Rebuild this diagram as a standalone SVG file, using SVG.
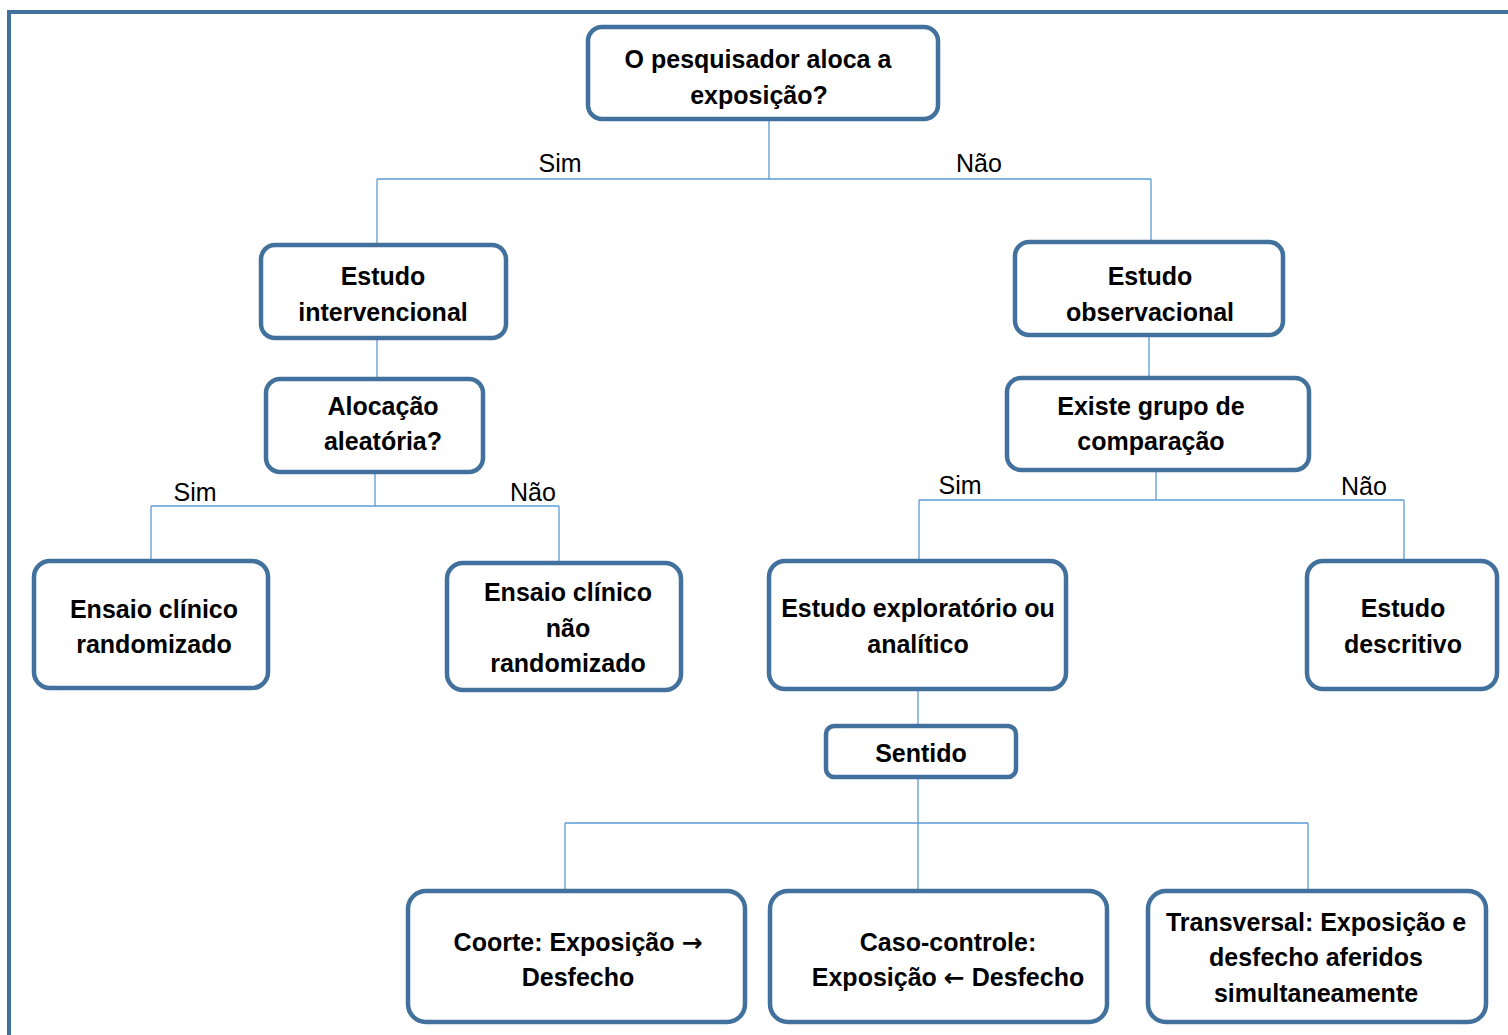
<svg xmlns="http://www.w3.org/2000/svg" width="1508" height="1035" viewBox="0 0 1508 1035">
<style>
.box{fill:#fff;stroke:#41719c;stroke-width:4.5}
.t{font-family:"Liberation Sans",Arial,sans-serif;font-weight:bold;font-size:25px;fill:#000;text-anchor:middle}
.l{font-family:"Liberation Sans",Arial,sans-serif;font-size:25px;fill:#000;text-anchor:middle}
.a{font-family:"DejaVu Sans",sans-serif;font-weight:bold}
.c{fill:none;stroke:#5b9bd5;stroke-width:1.3}
</style>
<rect width="1508" height="1035" fill="#fff"/>
<rect x="9" y="12" width="1520" height="1040" fill="none" stroke="#41719c" stroke-width="4"/>
<g id="connectors">
<path class="c" d="M769 119V179M377 179H1151M377 179V245M1151 179V242"/>
<path class="c" d="M377 338V379M1149 335V378"/>
<path class="c" d="M375 472V506M151 506H559M151 506V561M559 506V563"/>
<path class="c" d="M1156 470V500M919 500H1404M919 500V561M1404 500V561"/>
<path class="c" d="M918 689V726M918 777V891M565 823H1308M565 823V891M1308 823V891"/>
<text class="l" x="560" y="172">Sim</text>
<text class="l" x="979" y="172">Não</text>
<text class="l" x="195" y="501">Sim</text>
<text class="l" x="533" y="501">Não</text>
<text class="l" x="960" y="494">Sim</text>
<text class="l" x="1364" y="495">Não</text>
</g>
<g id="n1"><rect class="box" x="588" y="27" width="350" height="92" rx="14"/><text class="t" x="758" y="68">O pesquisador aloca a</text><text class="t" x="759" y="104">exposição?</text></g>
<g id="n2"><rect class="box" x="261" y="245" width="245" height="93" rx="14"/><text class="t" x="383" y="285">Estudo</text><text class="t" x="383" y="321">intervencional</text></g>
<g id="n3"><rect class="box" x="1015" y="242" width="268" height="93" rx="14"/><text class="t" x="1150" y="285">Estudo</text><text class="t" x="1150" y="321">observacional</text></g>
<g id="n4"><rect class="box" x="266" y="379" width="217" height="93" rx="14"/><text class="t" x="383" y="415">Alocação</text><text class="t" x="383" y="450">aleatória?</text></g>
<g id="n5"><rect class="box" x="1007" y="378" width="302" height="92" rx="14"/><text class="t" x="1151" y="415">Existe grupo de</text><text class="t" x="1151" y="450">comparação</text></g>
<g id="n6"><rect class="box" x="34" y="561" width="234" height="127" rx="16"/><text class="t" x="154" y="618">Ensaio clínico</text><text class="t" x="154" y="653">randomizado</text></g>
<g id="n7"><rect class="box" x="447" y="563" width="234" height="127" rx="16"/><text class="t" x="568" y="601">Ensaio clínico</text><text class="t" x="568" y="637">não</text><text class="t" x="568" y="672">randomizado</text></g>
<g id="n8"><rect class="box" x="769" y="561" width="297" height="128" rx="16"/><text class="t" x="918" y="617">Estudo exploratório ou</text><text class="t" x="918" y="653">analítico</text></g>
<g id="n9"><rect class="box" x="1307" y="561" width="190" height="128" rx="16"/><text class="t" x="1403" y="617">Estudo</text><text class="t" x="1403" y="653">descritivo</text></g>
<g id="n10"><rect class="box" x="826" y="726" width="190" height="51" rx="8"/><text class="t" x="921" y="762">Sentido</text></g>
<g id="n11"><rect class="box" x="408" y="891" width="337" height="131" rx="18"/><text class="t" x="578" y="951">Coorte: Exposição <tspan class="a">→</tspan></text><text class="t" x="578" y="986">Desfecho</text></g>
<g id="n12"><rect class="box" x="770" y="891" width="337" height="131" rx="18"/><text class="t" x="948" y="951">Caso-controle:</text><text class="t" x="948" y="986">Exposição <tspan class="a">←</tspan> Desfecho</text></g>
<g id="n13"><rect class="box" x="1148" y="891" width="338" height="131" rx="18"/><text class="t" x="1316" y="931">Transversal: Exposição e</text><text class="t" x="1316" y="966">desfecho aferidos</text><text class="t" x="1316" y="1002">simultaneamente</text></g>
</svg>
